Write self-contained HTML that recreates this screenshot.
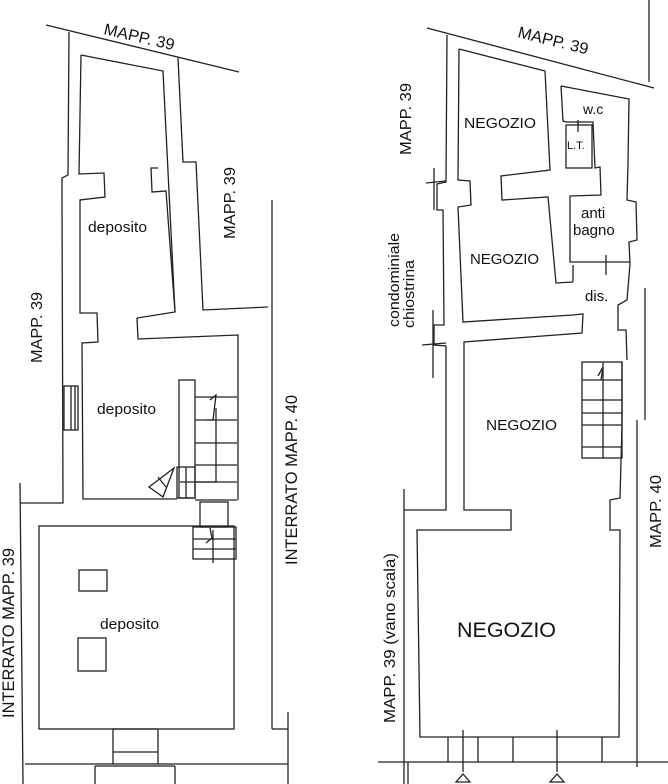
<!DOCTYPE html>
<html><head><meta charset="utf-8"><style>
html,body{margin:0;padding:0;background:#fff;width:668px;height:784px;overflow:hidden}
svg{display:block}
text{font-family:"Liberation Sans",sans-serif;fill:#111}
</style></head><body>
<svg width="668" height="784" viewBox="0 0 668 784" xmlns="http://www.w3.org/2000/svg">
<g fill="none" stroke="#222" stroke-width="1.3">
<!-- LEFT PLAN -->
<line x1="46" y1="25" x2="239" y2="72"/>
<polyline points="69,32 68,175 62,178 62,200 63,503 20,503"/>
<line x1="20" y1="483" x2="23" y2="784"/>
<polyline points="81,55 163,71 175,312 137,318 138,339 238,335 238,500"/>
<polyline points="81,55 79,174 104,173 105,197 80,200 80,313 97,313 98,342 82,343 83,499 177,499"/>
<polyline points="178,58 183,162 196,162 203,310 268,307"/>
<polyline points="158,168 151,168 152,192 166,191 175,312"/>
<line x1="272" y1="200" x2="272" y2="729"/>
<polyline points="272,729 288,729"/>
<line x1="288" y1="712" x2="288" y2="784"/>
<rect x="64" y="386" width="14" height="44"/>
<line x1="71" y1="386" x2="71" y2="430"/>
<line x1="75" y1="386" x2="75" y2="430"/>
<rect x="179" y="380" width="16" height="118"/>
<polyline points="195,397 237,397"/>
<line x1="195" y1="420" x2="237" y2="420"/><line x1="195" y1="443" x2="237" y2="443"/>
<line x1="195" y1="465" x2="237" y2="465"/><line x1="195" y1="482" x2="237" y2="482"/>
<line x1="195" y1="500" x2="237" y2="500"/>
<polyline points="216,408 216,482 180,482"/>
<polyline points="210,400 216,395 213,420 207,420"/>
<rect x="177" y="467" width="18" height="31"/>
<line x1="186" y1="467" x2="186" y2="498"/>
<polygon points="149,487 174,468 163,497"/>
<line x1="158" y1="477" x2="166" y2="487"/>
<rect x="200" y="502" width="28" height="25"/>
<rect x="39" y="526" width="195" height="203"/>
<rect x="193" y="527" width="43" height="32"/>
<line x1="193" y1="539" x2="236" y2="539"/><line x1="193" y1="549" x2="236" y2="549"/>
<line x1="213" y1="530" x2="213" y2="563"/>
<polyline points="210,528 212,538 206,543"/>
<rect x="79" y="570" width="28" height="21"/>
<rect x="78" y="638" width="28" height="33"/>
<line x1="25" y1="764" x2="113" y2="764"/>
<line x1="158" y1="764" x2="288" y2="764"/>
<rect x="113" y="729" width="45" height="35"/>
<line x1="113" y1="752" x2="158" y2="752"/>
<line x1="95" y1="766" x2="95" y2="784"/><line x1="175" y1="766" x2="175" y2="784"/>
<line x1="95" y1="766" x2="175" y2="766"/>

<!-- RIGHT PLAN -->
<line x1="427" y1="28" x2="654" y2="88"/>
<line x1="649" y1="0" x2="649" y2="82"/>
<polyline points="447,35 446,182 437,184 437,210 443,210 444,325 434,325 434,345 446,346 446,510 404,510"/>
<line x1="426" y1="183" x2="446" y2="181"/><line x1="434" y1="168" x2="434" y2="210"/>
<line x1="422" y1="345" x2="446" y2="343"/><line x1="433" y1="310" x2="433" y2="378"/>
<line x1="404" y1="489" x2="404" y2="784"/>
<polyline points="459,49 545,71 550,170 501,176 502,200 548,197 556,283 573,282"/>
<polyline points="459,49 458,180 470,181 471,205 458,207 463,322 573,315 583,314 582,333 464,342 464,510 511,510 511,530 417,530 420,737 619,737 620,530 610,530 610,500 620,498 622,425 622,362"/>
<polyline points="561,86 629,99 628,164 627,200 636,202 637,240 629,242 630,264 627,300 618,305 618,330 626,330 627,360"/>
<polyline points="561,86 563,121 566,122 593,122 595,168 600,167 601,195 570,196 570,262 630,262"/>
<rect x="566" y="125" width="26" height="43"/>
<line x1="578" y1="120" x2="578" y2="132"/>
<line x1="606" y1="255" x2="606" y2="275"/>
<polyline points="573,265 573,282"/>
<line x1="645" y1="288" x2="645" y2="420"/>
<line x1="637" y1="420" x2="637" y2="767"/>
<rect x="582" y="362" width="40" height="96"/>
<line x1="582" y1="380" x2="622" y2="380"/><line x1="582" y1="400" x2="622" y2="400"/>
<line x1="582" y1="413" x2="622" y2="413"/><line x1="582" y1="425" x2="622" y2="425"/>
<line x1="582" y1="447" x2="622" y2="447"/>
<line x1="603" y1="362" x2="603" y2="458"/>
<polyline points="598,376 603,367 601,380"/>
<line x1="378" y1="762" x2="668" y2="762"/>
<line x1="408" y1="762" x2="408" y2="784"/>
<line x1="448" y1="737" x2="448" y2="762"/><line x1="478" y1="737" x2="478" y2="762"/>
<line x1="513" y1="737" x2="513" y2="762"/><line x1="602" y1="737" x2="602" y2="762"/>
<line x1="463" y1="730" x2="463" y2="772"/><line x1="557" y1="730" x2="557" y2="772"/>
<polygon points="463,774 456,782 470,782"/>
<polygon points="557,774 550,782 564,782"/>
</g>
<g lengthAdjust="spacingAndGlyphs">
<text x="103" y="34" font-size="16" lengthAdjust="spacingAndGlyphs" textLength="72" transform="rotate(13 103 34)">MAPP. 39</text>
<text x="88" y="232" font-size="15" lengthAdjust="spacingAndGlyphs" textLength="59">deposito</text>
<text x="97" y="414" font-size="15" lengthAdjust="spacingAndGlyphs" textLength="59">deposito</text>
<text x="100" y="629" font-size="15" lengthAdjust="spacingAndGlyphs" textLength="59">deposito</text>
<text transform="translate(42,363) rotate(-90)" font-size="16" lengthAdjust="spacingAndGlyphs" textLength="71">MAPP. 39</text>
<text transform="translate(235,239) rotate(-90)" font-size="16" lengthAdjust="spacingAndGlyphs" textLength="72">MAPP. 39</text>
<text transform="translate(297,565) rotate(-90)" font-size="16.5" lengthAdjust="spacingAndGlyphs" textLength="170">INTERRATO MAPP. 40</text>
<text transform="translate(14,718) rotate(-90)" font-size="16.5" lengthAdjust="spacingAndGlyphs" textLength="170">INTERRATO MAPP. 39</text>
<text x="517" y="37" font-size="16" lengthAdjust="spacingAndGlyphs" textLength="72" transform="rotate(14 517 37)">MAPP. 39</text>
<text transform="translate(411,155) rotate(-90)" font-size="16" lengthAdjust="spacingAndGlyphs" textLength="72">MAPP. 39</text>
<text x="464" y="128" font-size="15" lengthAdjust="spacingAndGlyphs" textLength="72">NEGOZIO</text>
<text x="470" y="264" font-size="15" lengthAdjust="spacingAndGlyphs" textLength="69">NEGOZIO</text>
<text x="486" y="430" font-size="15" lengthAdjust="spacingAndGlyphs" textLength="71">NEGOZIO</text>
<text x="457" y="637" font-size="21" lengthAdjust="spacingAndGlyphs" textLength="99">NEGOZIO</text>
<text x="583" y="114" font-size="14">w.c</text>
<text x="567" y="149" font-size="11">L.T.</text>
<text x="581" y="218" font-size="15">anti</text>
<text x="573" y="235" font-size="15">bagno</text>
<text x="585" y="301" font-size="15">dis.</text>
<text transform="translate(399,327) rotate(-90)" font-size="15" lengthAdjust="spacingAndGlyphs" textLength="94">condominiale</text>
<text transform="translate(414,328) rotate(-90)" font-size="15" lengthAdjust="spacingAndGlyphs" textLength="68">chiostrina</text>
<text transform="translate(661,548) rotate(-90)" font-size="16" lengthAdjust="spacingAndGlyphs" textLength="73">MAPP. 40</text>
<text transform="translate(395,723) rotate(-90)" font-size="16" lengthAdjust="spacingAndGlyphs" textLength="170">MAPP. 39 (vano scala)</text>
</g>
</svg>
</body></html>
